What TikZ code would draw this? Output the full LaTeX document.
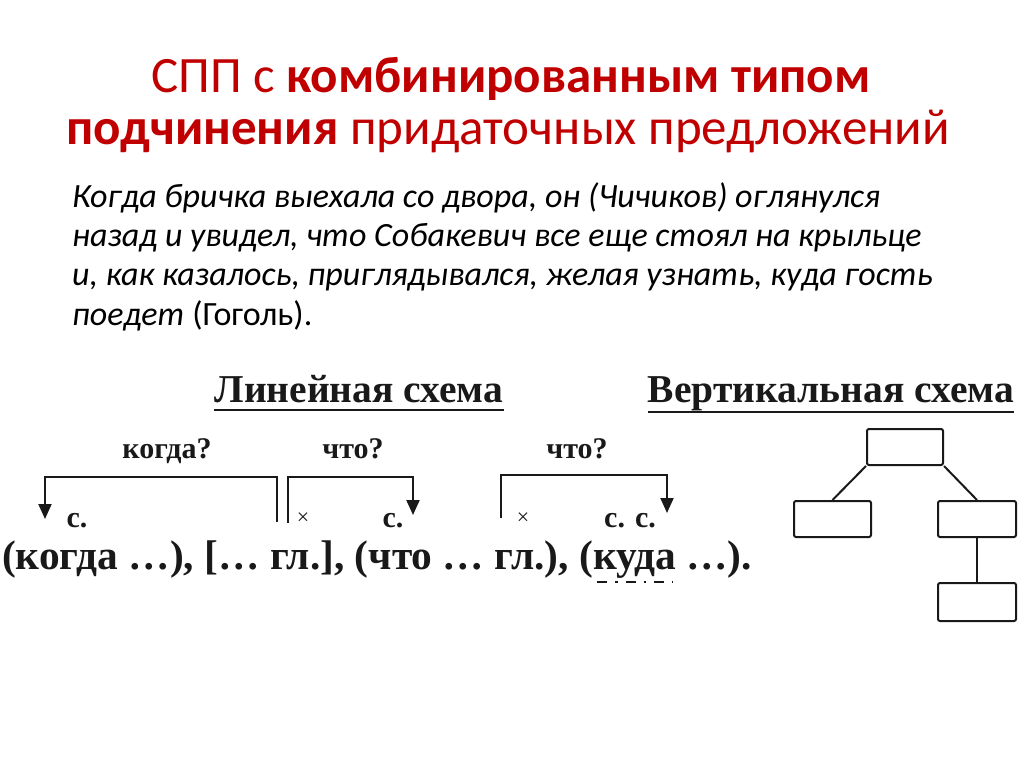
\documentclass[tikz,border=0pt]{standalone}
\usepackage{fontspec}
\setmainfont{Carlito}
\newfontfamily\schemefont{Liberation Serif}
\usetikzlibrary{arrows.meta}
\definecolor{titlered}{RGB}{192,0,0}
\definecolor{ink}{RGB}{25,25,25}
\begin{document}
\begin{tikzpicture}[x=1pt,y=-1pt,
  title/.style={font=\fontsize{51}{51}\selectfont, text=titlered, inner sep=0, anchor=base},
  para/.style={font=\fontsize{34}{34}\selectfont\itshape, text=black, anchor=base west, inner sep=0},
  schem/.style={font=\schemefont\bfseries\fontsize{41.4}{41.4}\selectfont, text=ink, inner sep=0, anchor=base west},
  head/.style={font=\schemefont\bfseries\fontsize{39.5}{39.5}\selectfont, text=ink, inner sep=0, anchor=base},
  quest/.style={font=\schemefont\bfseries\fontsize{30}{30}\selectfont, text=ink, inner sep=0, anchor=base},
  lbl/.style={font=\schemefont\bfseries\fontsize{30}{30}\selectfont, text=ink, inner sep=0, anchor=base},
  cross/.style={font=\schemefont\fontsize{22}{22}\selectfont, text=ink, inner sep=0, anchor=base},
  brk/.style={draw=ink, line width=2pt, line join=miter},
  arr/.style={brk, -{Triangle[width=13pt,length=15pt]}},
  vbox/.style={draw=ink, line width=2pt, rounded corners=2pt, minimum width=77pt, minimum height=36pt, inner sep=0}
]
\useasboundingbox (0,0) rectangle (1024,768);

% title
\node[title] (t1) at (511,92) {СПП с \textbf{комбинированным типом}};
\node[title] (t2) at (508,144) {\textbf{подчинения} придаточных предложений};

% paragraph
\node[para] (p1) at (72,207) {Когда бричка выехала со двора, он (Чичиков) оглянулся};
\node[para] (p2) at (72,246) {назад и увидел, что Собакевич все еще стоял на крыльце};
\node[para] (p3) at (72,285) {и, как казалось, приглядывался, желая узнать, куда гость};
\node[para] (p4) at (72,325) {поедет {\upshape (Гоголь).}};

% headers
\node[head] (h1) at (359,402) {Линейная схема};
\draw[draw=ink, line width=2.5pt] ([yshift=-8pt]h1.base west) -- ([yshift=-8pt]h1.base east);
\node[head] (h2) at (831,402) {Вертикальная схема};
\draw[draw=ink, line width=2.5pt] ([yshift=-10pt]h2.base west) -- ([yshift=-10pt]h2.base east);

% questions
\node[quest] (q1) at (167,458) {когда?};
\node[quest] (q2) at (353,458) {что?};
\node[quest] (q3) at (577,458) {что?};

% labels above the line
\node[lbl] (c1) at (77,527) {с.};
\node[lbl] (c2) at (393,527) {с.};
\node[lbl] (c3) at (630,527) {с. с.};
\node[cross] (x1) at (303,524) {×};
\node[cross] (x2) at (523,524) {×};

% main line
\node[schem] (m) at (2,569) {(когда …), [… гл.], (что … гл.), (куда …).};

% brackets
\coordinate (k1r) at (277,522);
\coordinate (k1rt) at (277,477);
\coordinate (k1lt) at (45,477);
\coordinate (k1l) at (45,519);
\draw[arr] (k1r) -- (k1rt) -- (k1lt) -- (k1l);

\coordinate (k2l) at (288,523);
\coordinate (k2lt) at (288,477);
\coordinate (k2rt) at (413,477);
\coordinate (k2r) at (413,515);
\draw[arr] (k2l) -- (k2lt) -- (k2rt) -- (k2r);

\coordinate (k3l) at (501,518);
\coordinate (k3lt) at (501,475);
\coordinate (k3rt) at (667,475);
\coordinate (k3r) at (667,513);
\draw[arr] (k3l) -- (k3lt) -- (k3rt) -- (k3r);

% dash-dot underline under "куда"
\coordinate (u1) at (597,582);
\coordinate (u2) at (673,582);
\draw[draw=ink, line width=2.5pt, dash pattern=on 10pt off 8pt on 2.5pt off 8pt] (u1) -- (u2);

% vertical scheme
\node[vbox, minimum width=76pt] (vt) at (905,447) {};
\node[vbox] (vl) at (832.5,519) {};
\node[vbox, minimum width=78pt] (vr) at (977,519) {};
\node[vbox, minimum width=78pt, minimum height=38pt] (vb) at (977,602) {};
\draw[brk] (vt.south west) -- (vl.north);
\draw[brk] (vt.south east) -- (vr.north);
\draw[brk] (vr.south) -- (vb.north);
\end{tikzpicture}
\end{document}
